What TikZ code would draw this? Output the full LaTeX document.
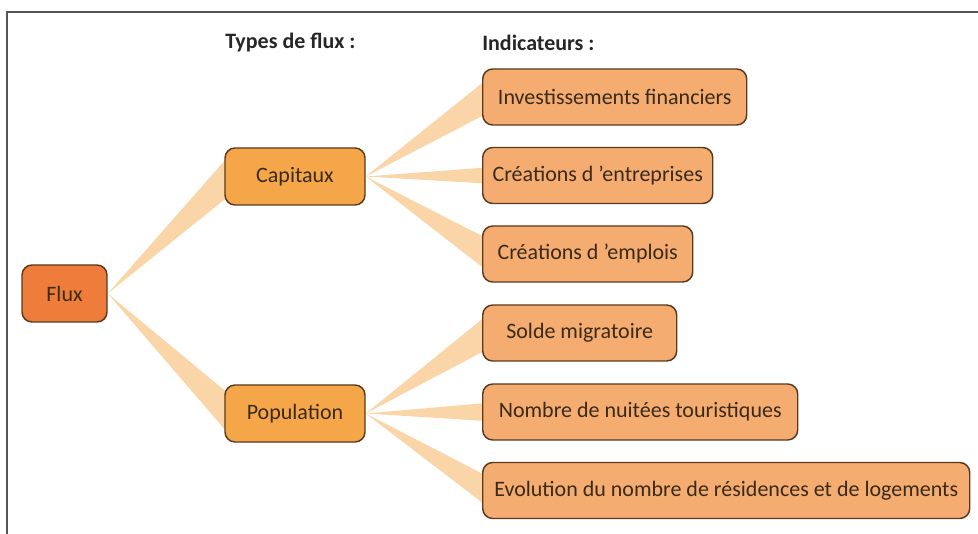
\documentclass[tikz,border=0pt]{standalone}
\usepackage{fontspec}
\setmainfont{Carlito}
\usetikzlibrary{calc}
\definecolor{fluxc}{HTML}{EE7D3C}
\definecolor{typec}{HTML}{F5A648}
\definecolor{indc}{HTML}{F4AC70}
\definecolor{wedgec}{HTML}{FAD5A8}
\definecolor{boxline}{HTML}{5A3A1E}
\definecolor{txt}{HTML}{3A2A1A}
\definecolor{framec}{HTML}{555555}
\pgfdeclarelayer{background}
\pgfsetlayers{background,main}
\begin{document}
\begin{tikzpicture}[x=0.75pt,y=-0.75pt,
  box/.style={draw=boxline, line width=1.1pt, rounded corners=7.5pt,
    minimum height=42pt, inner sep=0pt, text=txt,
    font=\fontsize{16.5}{18}\selectfont},
  fluxbox/.style={box, fill=fluxc, minimum width=63.75pt, minimum height=42.75pt},
  typebox/.style={box, fill=typec, minimum width=105pt, minimum height=42.75pt},
  indbox/.style={box, fill=indc, anchor=west},
  heading/.style={anchor=west, inner sep=0pt, text=black!85,
    font=\bfseries\fontsize{16.5}{18}\selectfont},
  wedgefill/.style={fill=wedgec},
  frameline/.style={draw=framec, line width=1.1pt}
]
\useasboundingbox (0,0) rectangle (978,534);
\draw[frameline] (978,12) -- (7,12) -- (7,534);

\node[heading] (h1) at (225,43) {Types de flux :};
\node[heading] (h2) at (482,43) {Indicateurs :};

\node[fluxbox] (flux) at (64.5,293.5) {Flux};
\node[typebox] (cap) at (295,176.5) {Capitaux};
\node[typebox] (pop) at (295,413.5) {Population};

\node[indbox, minimum width=198pt] (inv) at (482,97) {Investissements financiers};
\node[indbox, minimum width=172.5pt] (entr) at (482,175.5) {Créations d ’entreprises};
\node[indbox, minimum width=157.5pt] (empl) at (482,254) {Créations d ’emplois};
\node[indbox, minimum width=145.5pt] (solde) at (482,333) {Solde migratoire};
\node[indbox, minimum width=236.25pt] (nuit) at (482,412) {Nombre de nuitées touristiques};
\node[indbox, minimum width=365.25pt] (evol) at (482,490.5) {Evolution du nombre de résidences et de logements};

\begin{pgfonlayer}{background}
\foreach \p/\c/\h in {flux/cap/20, flux/pop/20,
                      cap/inv/17, cap/entr/8, cap/empl/16,
                      pop/solde/17, pop/nuit/9, pop/evol/15}{
  \fill[wedgefill] (\p.east) -- ($(\c.west)+(4,-\h)$) -- ($(\c.west)+(4,\h)$) -- cycle;
}
\end{pgfonlayer}
\end{tikzpicture}
\end{document}
